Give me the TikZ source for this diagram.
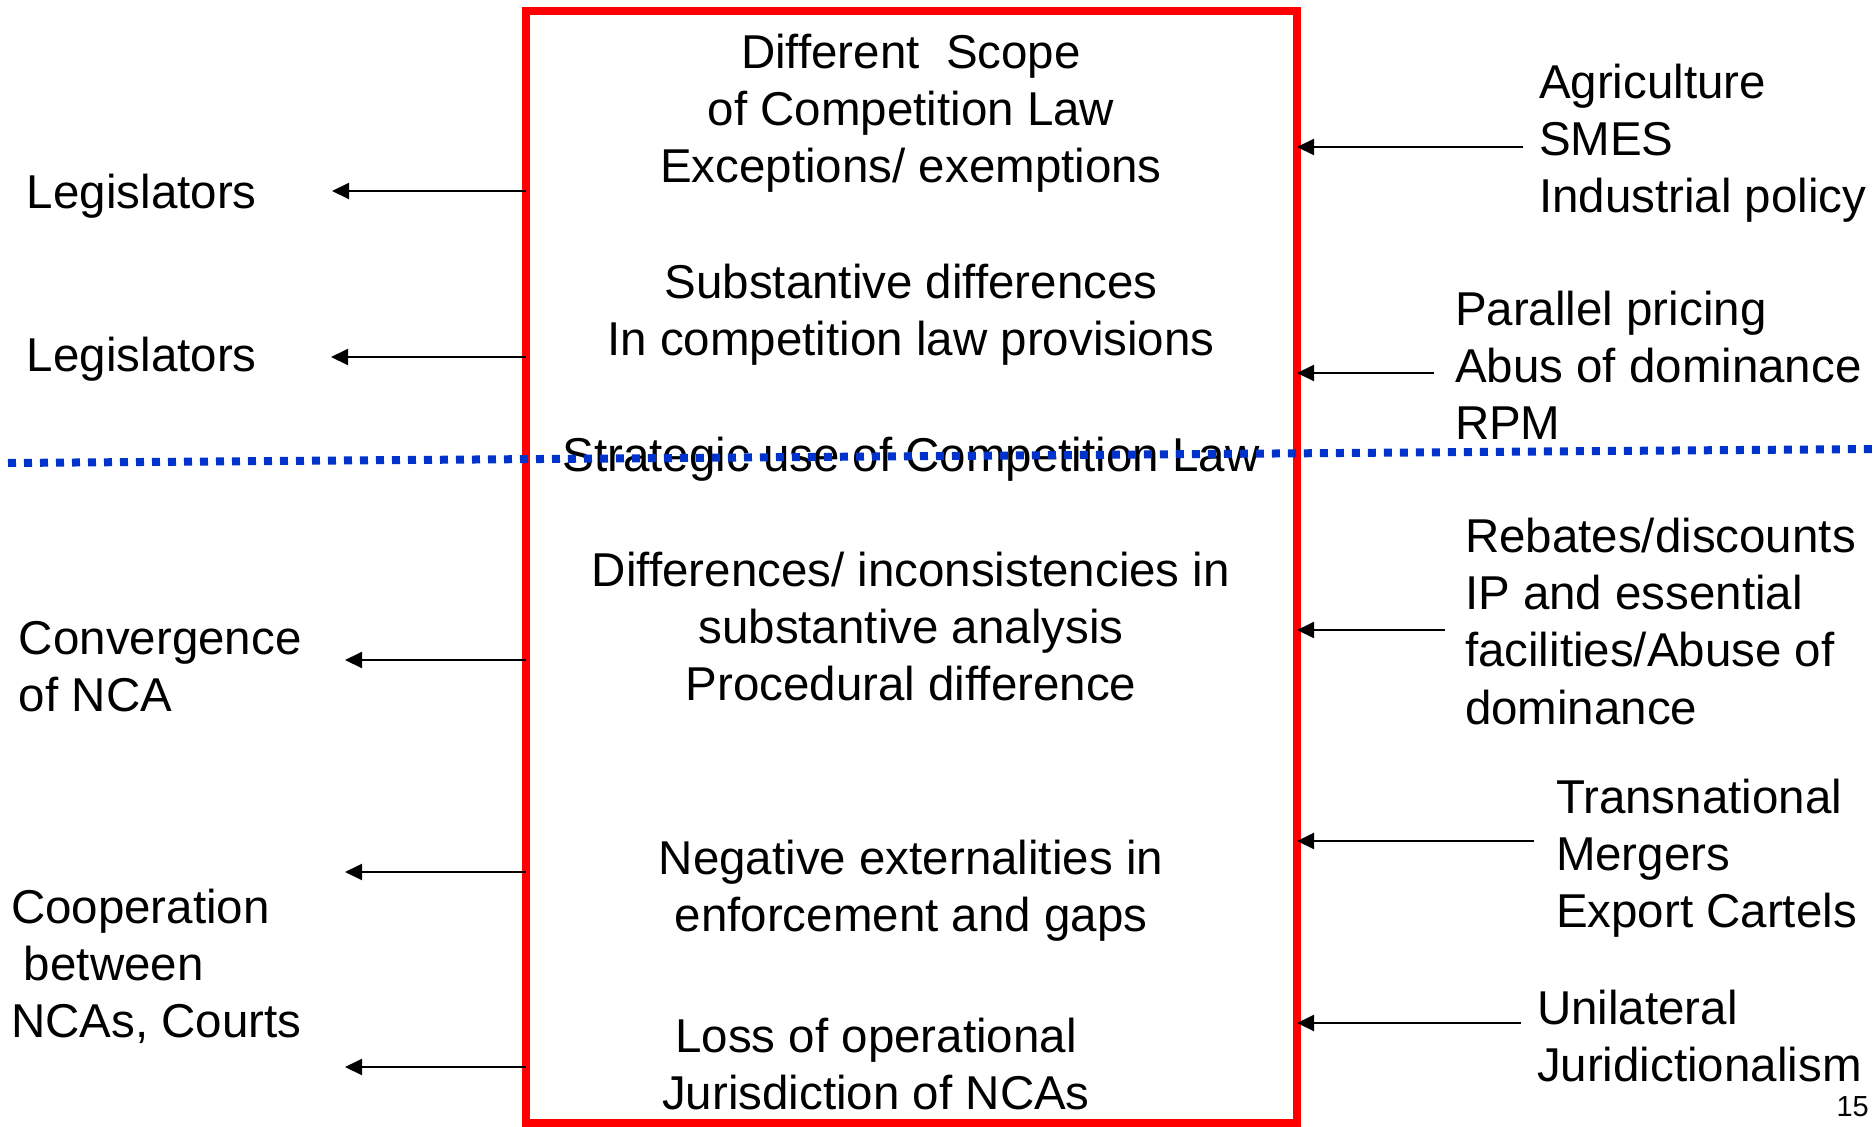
\documentclass[tikz,border=0pt]{standalone}
\usepackage{fontspec}
\setmainfont{Liberation Sans}
\usetikzlibrary{arrows.meta}
\definecolor{boxred}{RGB}{255,0,0}
\definecolor{dotblue}{RGB}{0,51,204}
\begin{document}
\begin{tikzpicture}[x=1pt,y=-1pt,
  txt/.style={font=\fontsize{47.5}{57.4}\selectfont, inner sep=0, outer sep=0},
  ctxt/.style={txt, align=center, anchor=base},
  ltxt/.style={txt, align=left, anchor=base west},
  arr/.style={line width=2pt, -{Triangle[length=17pt,width=16pt]}},
  frame/.style={draw=boxred, line width=8pt, inner sep=0, outer sep=0, minimum width=771pt, minimum height=1112pt},
  dotline/.style={draw=dotblue, line width=8pt, dash pattern=on 8pt off 8pt}
]
\useasboundingbox (0,0) rectangle (1874,1127);

% central frame
\node[frame] (box) at (911.5,567) {};

% central texts (anchor = baseline of last line)
\node[ctxt] (c1) at (911,182.8) {Different\ \ Scope\\of Competition Law\\Exceptions/ exemptions};
\node[ctxt] (c2) at (911,355.4) {Substantive differences\\In competition law provisions};
\node[ctxt] (c3) at (911,471) {Strategic use of Competition Law};
\node[ctxt] (c4) at (911,700.8) {Differences/ inconsistencies in\\substantive analysis\\Procedural difference};
\node[ctxt] (c5) at (911,931.4) {Negative externalities in\\enforcement and gaps};
\node[ctxt] (c6) at (876,1109.4) {Loss of operational\\Jurisdiction of NCAs};

% left texts
\node[ltxt] (l1t) at (27,208) {Legislators};
\node[ltxt] (l2t) at (27,371) {Legislators};
\node[ltxt] (l3t) at (19,711.4) {Convergence\\of NCA};
\node[ltxt] (l4t) at (11,1037.8) {Cooperation\\\hspace*{13pt}between\\NCAs, Courts};

% right texts
\node[ltxt] (r1t) at (1539,212.8) {Agriculture\\SMES\\Industrial policy};
\node[ltxt] (r2t) at (1455,439.8) {Parallel pricing\\Abus of dominance\\RPM};
\node[ltxt] (r3t) at (1465,724.2) {Rebates/discounts\\IP and essential\\facilities/Abuse of\\dominance};
\node[ltxt] (r4t) at (1556,927.8) {Transnational\\Mergers\\Export Cartels};
\node[ltxt] (r5t) at (1537,1081.4) {Unilateral\\Juridictionalism};

% page number
\node[inner sep=0, anchor=base east, font=\fontsize{29}{34}\selectfont] (pg) at (1869,1116) {15};

% arrow end coordinates
\coordinate (la) at (332,191);
\coordinate (lb) at (331,357);
\coordinate (lc) at (345,660);
\coordinate (ld) at (345,872);
\coordinate (le) at (345,1067);
\coordinate (ra) at (1523,147);
\coordinate (rb) at (1434,373);
\coordinate (rc) at (1445,630);
\coordinate (rd) at (1534,841);
\coordinate (re) at (1521,1023);

% left arrows
\draw[arr] (box.west |- la) -- (la);
\draw[arr] (box.west |- lb) -- (lb);
\draw[arr] (box.west |- lc) -- (lc);
\draw[arr] (box.west |- ld) -- (ld);
\draw[arr] (box.west |- le) -- (le);

% right arrows
\draw[arr] (ra) -- (box.east |- ra);
\draw[arr] (rb) -- (box.east |- rb);
\draw[arr] (rc) -- (box.east |- rc);
\draw[arr] (rd) -- (box.east |- rd);
\draw[arr] (re) -- (box.east |- re);

% dotted divider
\coordinate (d1) at (8,463);
\coordinate (d2) at (1874,449);
\draw[dotline] (d1) -- (d2);
\end{tikzpicture}
\end{document}
